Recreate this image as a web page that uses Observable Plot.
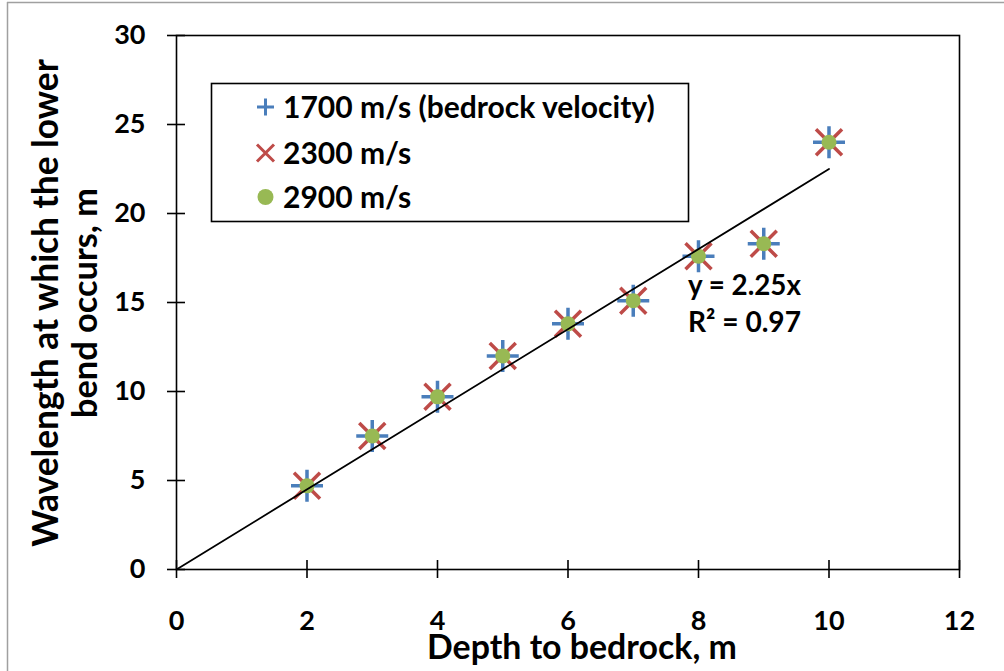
<!DOCTYPE html>
<html><head><meta charset="utf-8">
<script src="https://cdn.jsdelivr.net/npm/d3@7"></script>
<script src="https://cdn.jsdelivr.net/npm/@observablehq/plot@0.6"></script>
<style>body{margin:0;background:#fff} svg{display:block}</style>
</head><body><div id="chart"></div>
<script>
// ---- data ----
const depth = [2, 3, 4, 5, 6, 7, 8, 9, 10];
const wl1700 = [4.7, 7.5, 9.7, 12.0, 13.8, 15.1, 17.6, 18.3, 24.0];
const wl2300 = [4.7, 7.5, 9.7, 12.0, 13.8, 15.1, 17.6, 18.3, 24.0];
const wl2900 = [4.7, 7.5, 9.7, 12.0, 13.8, 15.1, 17.6, 18.3, 24.0];
const trendX = [0, 10];
const trendY = [0, 22.5];
const xTicks = [0, 2, 4, 6, 8, 10, 12];
const yTicks = [0, 5, 10, 15, 20, 25, 30];
const seriesNames = ["1700 m/s (bedrock velocity)", "2300 m/s", "2900 m/s"];
const equationLines = ["y = 2.25x", "R\u00b2 = 0.97"];
const xTitle = "Depth to bedrock, m";
const yTitleLines = ["Wavelength at which the lower", "bend occurs, m"];

const colors = ["#4a7ebb", "#be4b48", "#98b954"];
const FONT = "Lato, 'Open Sans', sans-serif";
const TICK_FS = 27;

const plusSym = {draw(ctx, size) {const r = Math.sqrt(size / Math.PI); ctx.moveTo(-r, 0); ctx.lineTo(r, 0); ctx.moveTo(0, -r); ctx.lineTo(0, r);}};
const timesSym = {draw(ctx, size) {const r = Math.sqrt(size / Math.PI); ctx.moveTo(-r, -r); ctx.lineTo(r, r); ctx.moveTo(-r, r); ctx.lineTo(r, -r);}};

const s1 = depth.map((d, i) => ({x: d, y: wl1700[i]}));
const s2 = depth.map((d, i) => ({x: d, y: wl2300[i]}));
const s3 = depth.map((d, i) => ({x: d, y: wl2900[i]}));
const trend = trendX.map((d, i) => ({x: d, y: trendY[i]}));

const chart = Plot.plot({
  width: 1004, height: 671,
  marginLeft: 176, marginRight: 45, marginTop: 35, marginBottom: 102,
  x: {domain: [0, 12]},
  y: {domain: [0, 30]},
  style: {fontFamily: FONT, fontWeight: "bold", color: "#000", background: "#fff", overflow: "visible"},
  marks: [
    Plot.frame({stroke: "#000", strokeWidth: 1.6}),
    Plot.axisX(xTicks, {tickSize: 18, dy: -9, tickFormat: () => "", label: null, strokeWidth: 1.6}),
    Plot.axisY(yTicks, {tickSize: 18, dx: 9, tickFormat: () => "", label: null, strokeWidth: 1.6}),
    Plot.text(xTicks, {x: d => d, frameAnchor: "bottom", lineAnchor: "top", dy: 41, fontSize: TICK_FS, fontWeight: "bold", fill: "#000"}),
    Plot.text(yTicks, {y: d => d, frameAnchor: "left", textAnchor: "end", dx: -31, fontSize: TICK_FS, fontWeight: "bold", fill: "#000"}),
    Plot.dot(s1, {x: "x", y: "y", symbol: plusSym, r: 16, fill: "none", stroke: colors[0], strokeWidth: 3.5}),
    Plot.dot(s2, {x: "x", y: "y", symbol: timesSym, r: 13, fill: "none", stroke: colors[1], strokeWidth: 3.5}),
    Plot.dot(s3, {x: "x", y: "y", r: 7.5, fill: colors[2], stroke: "none"}),
    Plot.line(trend, {x: "x", y: "y", stroke: "#000", strokeWidth: 1.8})
  ]
});
document.getElementById("chart").appendChild(chart);

const svg = d3.select(chart);

// outer chart border (cropped)
svg.append("line").attr("x1", 7).attr("x2", 1004).attr("y1", 2.5).attr("y2", 2.5).attr("stroke", "#a0a0a0").attr("stroke-width", 1.5);
svg.append("line").attr("x1", 7.5).attr("x2", 7.5).attr("y1", 2).attr("y2", 671).attr("stroke", "#a0a0a0").attr("stroke-width", 1.5);

function fitText(sel, width) {
  const n = sel.node();
  const w = n.getComputedTextLength();
  const fs = parseFloat(sel.attr("font-size"));
  sel.attr("font-size", fs * width / w);
}
function txt(parent, s) {
  return parent.append("text").attr("font-family", FONT).attr("font-weight", "bold").attr("fill", "#000").text(s);
}

// axis titles
const xt = txt(svg, xTitle).attr("x", 582).attr("y", 659).attr("text-anchor", "middle").attr("font-size", 32);
fitText(xt, 310);
const yBase = [58, 97], yLen = [488, 230];
yTitleLines.forEach((t, i) => {
  const yt = txt(svg, t).attr("transform", `translate(${yBase[i]},303) rotate(-90)`).attr("text-anchor", "middle").attr("font-size", 32);
  fitText(yt, yLen[i]);
});

// legend
const lg = svg.append("g");
lg.append("rect").attr("x", 211.5).attr("y", 83.5).attr("width", 477).attr("height", 138)
  .attr("fill", "#fff").attr("stroke", "#000").attr("stroke-width", 1.6);
const rowsY = [107, 153, 197];
const syms = [plusSym, timesSym, d3.symbolCircle];
const rad = [8.5, 8.5, 8];
let legendFs = 24;
seriesNames.forEach((name, i) => {
  const p = lg.append("path").attr("transform", `translate(265.5,${rowsY[i]})`)
    .attr("d", d3.symbol(syms[i], Math.PI * rad[i] * rad[i])());
  if (i < 2) p.attr("fill", "none").attr("stroke", colors[i]).attr("stroke-width", 3);
  else p.attr("fill", colors[i]);
  const t = txt(lg, name).attr("x", 283).attr("y", rowsY[i]).attr("dy", "0.36em").attr("text-anchor", "start").attr("font-size", legendFs);
  if (i === 0) { fitText(t, 372); legendFs = parseFloat(t.attr("font-size")); }
});
// equation
const eqY = [295, 332];
equationLines.forEach((t, i) => {
  const e = txt(svg, t).attr("x", 688).attr("y", eqY[i]).attr("text-anchor", "start").attr("font-size", 24);
  fitText(e, 113);
});
</script></body></html>
